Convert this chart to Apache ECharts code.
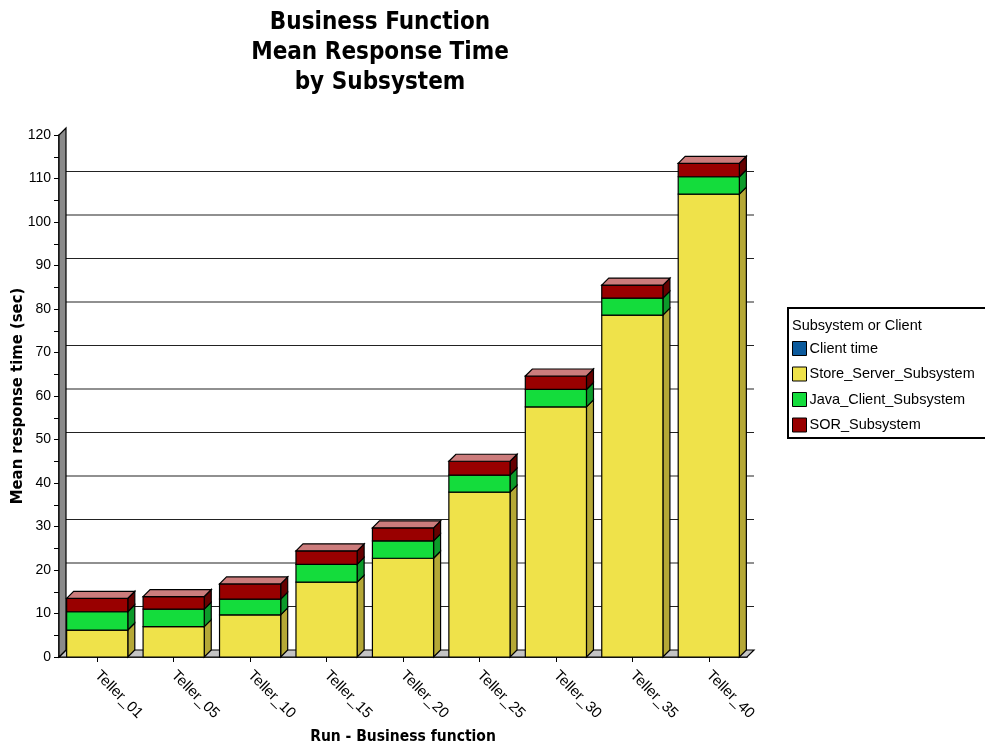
<!DOCTYPE html>
<html>
<head>
<meta charset="utf-8">
<script src="https://cdn.jsdelivr.net/npm/echarts@6/dist/echarts.min.js"></script>
<style>
html,body{margin:0;padding:0;background:#fff;}
#main{width:985px;height:748px;}
</style>
</head>
<body>
<div id="main"></div>
<script>
var categories = ['Teller_01','Teller_05','Teller_10','Teller_15','Teller_20','Teller_25','Teller_30','Teller_35','Teller_40'];
var clientTime   = [0, 0, 0, 0, 0, 0, 0, 0, 0];
var storeServer  = [6.2, 7.0, 9.7, 17.2, 22.7, 37.9, 57.5, 78.6, 106.4];
var javaClient   = [4.2, 4.0, 3.6, 4.1, 4.0, 3.9, 4.0, 3.9, 4.0];
var sorSubsystem = [3.1, 2.9, 3.5, 3.1, 3.0, 3.2, 3.1, 3.0, 3.1];
var seriesNames = ['Client time','Store_Server_Subsystem','Java_Client_Subsystem','SOR_Subsystem'];
var yMin = 0, yMax = 120, yStep = 10;

var DX = 7, DY = -7;
var FONT = 'Arial, "Liberation Sans", sans-serif';
var COND = '"Liberation Sans Narrow", "DejaVu Sans Condensed", Arial, sans-serif';

var chart = echarts.init(document.getElementById('main'));

function cumBase(arrs, upto) {
  return categories.map(function (c, i) {
    var s = 0;
    for (var k = 0; k < upto; k++) s += arrs[k][i];
    return s;
  });
}
var stackArrs = [clientTime, storeServer, javaClient, sorSubsystem];
var colors = ['#0b5a9c', '#efe24a', '#14dc3c', '#990000'];
var sides  = ['#083f6e', '#b5a836', '#0c9a2a', '#660000'];
var topColor = '#cc7c7c';

function barSeries(k) {
  var bases = cumBase(stackArrs, k);
  var vals = stackArrs[k];
  var isTop = (k === stackArrs.length - 1);
  return {
    type: 'custom',
    name: seriesNames[k],
    z: 3,
    itemStyle: { color: colors[k], borderColor: '#000', borderWidth: 1 },
    encode: { x: 0, y: [1, 2] },
    data: vals.map(function (v, i) { return [i, bases[i], bases[i] + v]; }),
    renderItem: function (params, api) {
      var i = api.value(0), b = api.value(1), t = api.value(2);
      if (t - b <= 0) return;
      var p0 = api.coord([i, b]);
      var p1 = api.coord([i, t]);
      var bw = api.size([1, 0])[0] * 0.8;
      var x0 = p0[0] - bw / 2, x1 = p0[0] + bw / 2;
      var yb = p0[1], yt = p1[1];
      var st = { stroke: '#000', lineWidth: 1.2 };
      var children = [
        { type: 'polygon', shape: { points: [[x1, yt], [x1 + DX, yt + DY], [x1 + DX, yb + DY], [x1, yb]] },
          style: Object.assign({ fill: sides[k] }, st) },
        { type: 'rect', shape: { x: x0, y: yt, width: bw, height: yb - yt },
          style: Object.assign({ fill: colors[k] }, st) }
      ];
      if (isTop) {
        children.push({ type: 'polygon', shape: { points: [[x0, yt], [x1, yt], [x1 + DX, yt + DY], [x0 + DX, yt + DY]] },
          style: Object.assign({ fill: topColor }, st) });
      }
      return { type: 'group', children: children };
    }
  };
}

var backgroundSeries = {
  type: 'custom',
  name: 'background',
  z: 1,
  silent: true,
  data: [[0, 0]],
  encode: { x: 0, y: 1 },
  renderItem: function (params, api) {
    var cs = params.coordSys;
    var xl = cs.x, xr = cs.x + cs.width;
    var y0 = api.coord([0, yMin])[1];
    var yTop = api.coord([0, yMax])[1];
    var children = [];
    for (var v = yMin + yStep; v < yMax; v += yStep) {
      var yy = api.coord([0, v])[1] + DY;
      children.push({ type: 'line', shape: { x1: xl + DX, y1: yy, x2: xr + DX, y2: yy },
        style: { stroke: '#222', lineWidth: 1.2 } });
    }
    children.push({ type: 'polygon', shape: { points: [[xl, y0], [xr, y0], [xr + DX, y0 + DY], [xl + DX, y0 + DY]] },
      style: { fill: '#c4c4c4', stroke: '#000', lineWidth: 1.2 } });
    children.push({ type: 'polygon', shape: { points: [[xl, y0], [xl, yTop], [xl + DX, yTop + DY], [xl + DX, y0 + DY]] },
      style: { fill: '#8a8a8a', stroke: '#000', lineWidth: 1.2 } });
    return { type: 'group', children: children };
  }
};

var option = {
  backgroundColor: '#fff',
  animation: false,
  grid: { left: 59, right: 238, top: 135, bottom: 91, containLabel: false, outerBoundsMode: 'none' },
  graphic: [
    { type: 'text', x: 380, y: 8, z: 10,
      style: { text: 'Business Function\nMean Response Time\nby Subsystem', textAlign: 'center',
        font: 'bold 24px ' + COND, lineHeight: 30, fill: '#000' } },
    { type: 'rect', x: 788, y: 308, z: 5,
      shape: { width: 220, height: 130 },
      style: { fill: '#fff', stroke: '#000', lineWidth: 2 } },
    { type: 'text', x: 792, y: 326, z: 10,
      style: { text: 'Subsystem or Client', font: '14.5px ' + FONT, fill: '#000', textVerticalAlign: 'middle', verticalAlign: 'middle' } }
  ],
  legend: {
    data: seriesNames,
    orient: 'vertical',
    left: 792, top: 341,
    padding: 0,
    itemWidth: 14, itemHeight: 14, itemGap: 10.5,
    icon: 'rect',
    z: 10,
    textStyle: { fontSize: 14.5, fontFamily: FONT, color: '#000', padding: [0, 0, 0, -2] },
    itemStyle: { borderColor: '#000', borderWidth: 1 }
  },
  xAxis: {
    type: 'category',
    data: categories,
    name: 'Run - Business function',
    nameLocation: 'middle',
    nameGap: 72,
    nameTextStyle: { fontFamily: COND, fontWeight: 'bold', fontSize: 15.5, color: '#000' },
    axisLine: { show: true, lineStyle: { color: '#000', width: 1.5 } },
    axisTick: { show: true, alignWithLabel: true, length: 5, lineStyle: { color: '#000' } },
    axisLabel: { rotate: -45, fontSize: 15, fontFamily: FONT, color: '#000', margin: 16, interval: 0,
      align: 'left', verticalAlign: 'middle' },
    splitLine: { show: false }
  },
  yAxis: {
    type: 'value',
    min: yMin, max: yMax, interval: yStep,
    name: 'Mean response time (sec)',
    nameLocation: 'middle',
    nameRotate: 90,
    nameGap: 33,
    nameMoveOverlap: false,
    nameTextStyle: { fontFamily: COND, fontWeight: 'bold', fontSize: 16.5, color: '#000' },
    axisLine: { show: true, lineStyle: { color: '#000', width: 1.5 } },
    axisTick: { show: true, length: 5, lineStyle: { color: '#000' } },
    minorTick: { show: true, splitNumber: 2, length: 5, lineStyle: { color: '#000' } },
    axisLabel: { fontSize: 14, fontFamily: FONT, color: '#000', margin: 8 },
    splitLine: { show: false }
  },
  series: [backgroundSeries].concat([0, 1, 2, 3].map(barSeries))
};
chart.setOption(option);
</script>
</body>
</html>
